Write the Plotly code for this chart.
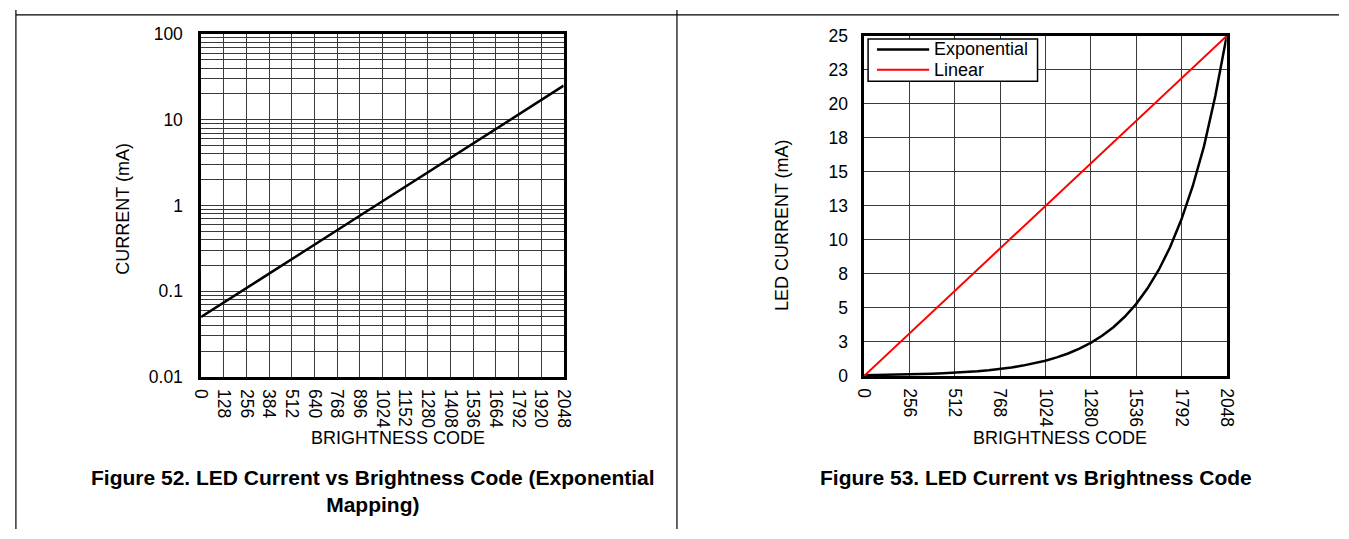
import plotly.graph_objects as go

# ---------------- data ----------------
codes = [0, 64, 128, 192, 256, 320, 384, 448, 512, 576, 640, 704, 768, 832, 896, 960,
         1024, 1088, 1152, 1216, 1280, 1344, 1408, 1472, 1536, 1600, 1664, 1728, 1792,
         1856, 1920, 1984, 2048]
exp_current = [0.050, 0.061, 0.074, 0.090, 0.109, 0.132, 0.160, 0.195, 0.236, 0.287,
               0.349, 0.423, 0.514, 0.624, 0.758, 0.920, 1.12, 1.36, 1.65, 2.00, 2.43,
               2.95, 3.58, 4.35, 5.28, 6.42, 7.79, 9.46, 11.5, 13.95, 16.9, 20.6, 25.0]
lin_codes = [0, 2048]
lin_current = [0.0, 25.0]

left_y_ticks = [0.01, 0.1, 1, 10, 100]
left_y_text = ["0.01", "0.1", "1", "10", "100"]
right_y_ticks = [0, 2.5, 5, 7.5, 10, 12.5, 15, 17.5, 20, 22.5, 25]
right_y_text = ["0", "3", "5", "8", "10", "13", "15", "18", "20", "23", "25"]

series_names = ["Exponential", "Linear"]
x_title = "BRIGHTNESS CODE"
y_title_left = "CURRENT (mA)"
y_title_right = "LED CURRENT (mA)"
caption_left = "Figure 52. LED Current vs Brightness Code (Exponential<br>Mapping)"
caption_right = "Figure 53. LED Current vs Brightness Code"

# ---------------- figure ----------------
W, H = 1349, 539
FONT = "Liberation Sans, Arial, sans-serif"
GRID = "#3a3a3a"
EXP_COLOR = "black"
LIN_COLOR = "#ff0000"

def px(x):
    return x / W

def py(y):
    return 1 - y / H

fig = go.Figure()

fig.add_trace(go.Scatter(x=codes, y=exp_current, mode="lines", xaxis="x", yaxis="y",
                         line=dict(color=EXP_COLOR, width=2.5), name=series_names[0]))
fig.add_trace(go.Scatter(x=codes, y=exp_current, mode="lines", xaxis="x2", yaxis="y2",
                         line=dict(color=EXP_COLOR, width=2.5), name=series_names[0]))
fig.add_trace(go.Scatter(x=lin_codes, y=lin_current, mode="lines", xaxis="x2", yaxis="y2",
                         line=dict(color=LIN_COLOR, width=2), name=series_names[1]))

axis_common = dict(showline=True, linecolor="black", linewidth=2.5, mirror=True,
                   showgrid=True, gridcolor=GRID, gridwidth=1, zeroline=False,
                   ticks="", tickfont=dict(family=FONT, size=17.5, color="black"))

fig.update_layout(
    width=W, height=H,
    margin=dict(l=0, r=0, t=0, b=0),
    paper_bgcolor="white", plot_bgcolor="white",
    font=dict(family=FONT, color="black"),
    showlegend=False,
    xaxis=dict(domain=[px(194), px(562)], anchor="y", range=[0, 2048],
               tick0=0, dtick=128, tickangle=90, ticklabelstandoff=6, **axis_common),
    yaxis=dict(domain=[py(381), py(25)], anchor="x", type="log", range=[-2, 2],
               tickvals=left_y_ticks, ticktext=left_y_text, ticklabelstandoff=12,
               minor=dict(dtick="D1", showgrid=True, gridcolor=GRID, gridwidth=1),
               **axis_common),
    xaxis2=dict(domain=[px(867), px(1235)], anchor="y2", range=[0, 2048],
                tick0=0, dtick=256, tickangle=90, ticklabelstandoff=6, **axis_common),
    yaxis2=dict(domain=[py(380), py(27)], anchor="x2", range=[0, 25],
                tickvals=right_y_ticks, ticktext=right_y_text, ticklabelstandoff=10,
                **axis_common),
)

# table frame lines
line_style = dict(color="black", width=1.2)
fig.add_shape(type="line", xref="paper", yref="paper", x0=px(6), x1=1, y0=py(5), y1=py(5), line=line_style)
fig.add_shape(type="line", xref="paper", yref="paper", x0=px(6), x1=px(6), y0=0, y1=1, line=line_style)
fig.add_shape(type="line", xref="paper", yref="paper", x0=px(677), x1=px(677), y0=0, y1=1, line=line_style)

# axis titles
title_font = dict(family=FONT, size=18, color="black")
fig.add_annotation(text=x_title, xref="paper", yref="paper", x=px(394), y=py(445),
                   xanchor="center", yanchor="middle", showarrow=False, font=title_font)
fig.add_annotation(text=x_title, xref="paper", yref="paper", x=px(1066), y=py(444),
                   xanchor="center", yanchor="middle", showarrow=False, font=title_font)
fig.add_annotation(text=y_title_left, xref="paper", yref="paper", x=px(115), y=py(206),
                   xanchor="center", yanchor="middle", textangle=-90, showarrow=False,
                   font=title_font)
fig.add_annotation(text=y_title_right, xref="paper", yref="paper", x=px(783), y=py(223),
                   xanchor="center", yanchor="middle", textangle=-90, showarrow=False,
                   font=title_font)

# legend box (right chart)
fig.add_shape(type="rect", xref="paper", yref="paper", x0=px(871), x1=px(1043),
              y0=py(74), y1=py(30), line=dict(color="black", width=1.5), fillcolor="white")
legend_rows = [(series_names[0], EXP_COLOR, 2.5, 41), (series_names[1], LIN_COLOR, 2, 62)]
for name, color, width, yrow in legend_rows:
    fig.add_shape(type="line", xref="paper", yref="paper", x0=px(880), x1=px(933),
                  y0=py(yrow), y1=py(yrow), line=dict(color=color, width=width))
    fig.add_annotation(text=name, xref="paper", yref="paper", x=px(936), y=py(yrow),
                       xanchor="left", yanchor="middle", showarrow=False,
                       font=dict(family=FONT, size=18, color="black"))

# captions
fig.add_annotation(text="<b>" + caption_left.replace("<br>", "</b><br><b>") + "</b>",
                   xref="paper", yref="paper", x=px(368), y=py(500),
                   xanchor="center", yanchor="middle", showarrow=False,
                   font=dict(family=FONT, size=21, color="black"))
fig.add_annotation(text="<b>" + caption_right + "</b>",
                   xref="paper", yref="paper", x=px(1041), y=py(485),
                   xanchor="center", yanchor="middle", showarrow=False,
                   font=dict(family=FONT, size=21, color="black"))

fig.write_html(
    "out.html",
    config={"displayModeBar": False},
    post_script="document.body.style.margin='0';document.body.style.padding='0';"
                "document.body.style.overflow='hidden';"
                "document.documentElement.style.overflow='hidden';",
)
